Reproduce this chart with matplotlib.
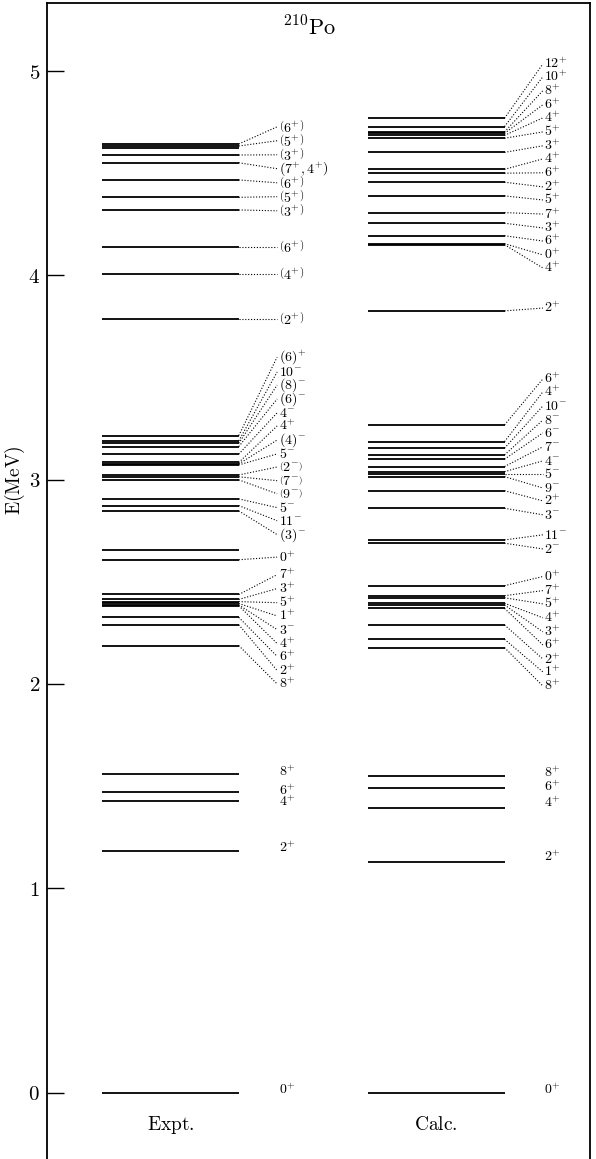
import matplotlib
matplotlib.use("Agg")
import matplotlib.pyplot as plt

plt.rcParams['mathtext.fontset'] = 'cm'
plt.rcParams['font.family'] = ['DejaVu Serif']

# ---------------- data ----------------
yticks = [0, 1, 2, 3, 4, 5]
column_names = ["Expt.", "Calc."]
title = r"$^{210}\mathrm{Po}$"

expt_E = [0.000, 1.181, 1.427, 1.473, 1.557,
          2.188, 2.290, 2.326, 2.383, 2.387, 2.394, 2.403, 2.414, 2.438, 2.608, 2.657,
          2.847, 2.873, 2.906, 2.999, 3.014, 3.023, 3.072, 3.077, 3.084, 3.125, 3.162,
          3.178, 3.190, 3.216,
          3.787, 4.007, 4.140, 4.320, 4.382, 4.467, 4.551, 4.589, 4.622, 4.633, 4.643]
expt_lab = [r"0^{+}", r"2^{+}", r"4^{+}", r"6^{+}", r"8^{+}",
            r"8^{+}", r"2^{+}", r"6^{+}", r"4^{+}", r"3^{-}", r"1^{+}", r"5^{+}", r"3^{+}",
            r"7^{+}", r"0^{+}", "",
            r"(3)^{-}", r"11^{-}", r"5^{-}", r"\left(9^{-}\right)", r"\left(7^{-}\right)",
            r"\left(2^{-}\right)", r"5^{-}", r"(4)^{-}", r"4^{+}", r"4^{-}", r"(6)^{-}",
            r"(8)^{-}", r"10^{-}", r"(6)^{+}",
            r"\left(2^{+}\right)", r"\left(4^{+}\right)", r"\left(6^{+}\right)",
            r"\left(3^{+}\right)", r"\left(5^{+}\right)", r"\left(6^{+}\right)",
            r"\left(7^{+},4^{+}\right)", r"\left(3^{+}\right)", "",
            r"\left(5^{+}\right)", r"\left(6^{+}\right)"]
expt_labE = [0.015, 1.201, 1.427, 1.476, 1.569,
             2.000, 2.066, 2.135, 2.198, 2.266, 2.333, 2.398, 2.467, 2.535, 2.621, None,
             2.731, 2.799, 2.863, 2.931, 2.995, 3.062, 3.126, 3.194, 3.263, 3.327, 3.395,
             3.463, 3.527, 3.600,
             3.787, 4.007, 4.140, 4.316, 4.385, 4.453, 4.522, 4.590, None, 4.659, 4.727]

calc_E = [0.000, 1.130, 1.395, 1.490, 1.551,
          2.178, 2.219, 2.289, 2.370, 2.387, 2.395, 2.422, 2.432, 2.481,
          2.689, 2.705, 2.860, 2.946, 3.015, 3.028, 3.039, 3.064, 3.100, 3.121, 3.154,
          3.186, 3.268,
          3.826, 4.150, 4.155, 4.194, 4.255, 4.307, 4.389, 4.456, 4.500, 4.519, 4.602,
          4.671, 4.685, 4.695, 4.702, 4.728, 4.769]
calc_lab = [r"0^{+}", r"2^{+}", r"4^{+}", r"6^{+}", r"8^{+}",
            r"8^{+}", r"1^{+}", r"2^{+}", r"6^{+}", r"3^{+}", r"4^{+}", r"5^{+}", r"7^{+}",
            r"0^{+}",
            r"2^{-}", r"11^{-}", r"3^{-}", r"2^{+}", r"9^{-}", r"5^{-}", r"4^{-}", r"7^{-}",
            r"6^{-}", r"8^{-}", r"10^{-}", r"4^{+}", r"6^{+}",
            r"2^{+}", r"4^{+}", r"0^{+}", r"6^{+}", r"3^{+}", r"7^{+}", r"5^{+}", r"2^{+}",
            r"6^{+}", r"4^{+}", r"3^{+}", r"5^{+}", r"4^{+}", r"6^{+}", r"8^{+}", r"10^{+}",
            r"12^{+}"]
calc_labE = [0.015, 1.153, 1.418, 1.496, 1.565,
             1.990, 2.059, 2.122, 2.191, 2.255, 2.324, 2.392, 2.457, 2.526,
             2.661, 2.730, 2.828, 2.896, 2.959, 3.028, 3.092, 3.161, 3.229, 3.292, 3.361,
             3.430, 3.493,
             3.840, 4.036, 4.100, 4.168, 4.232, 4.300, 4.369, 4.433, 4.502, 4.570, 4.634,
             4.702, 4.771, 4.835, 4.904, 4.972, 5.035]

# ---------------- layout ----------------
W, H = 596, 1159
fig = plt.figure(figsize=(W / 100, H / 100), dpi=100)
ax = fig.add_axes([47 / W, 0.0, (590 - 47) / W, (1159 - 3) / H])

col_left = [0.0, 1.94]
col_w = 1.0
conn_len = 0.28
ax.set_xlim(-0.40, 3.564)
ax.set_ylim(-0.325, 5.333)

columns = [(expt_E, expt_lab, expt_labE), (calc_E, calc_lab, calc_labE)]
for (E, labs, labE), x0 in zip(columns, col_left):
    x1 = x0 + col_w
    for e, lab, le in zip(E, labs, labE):
        ax.plot([x0, x1], [e, e], color='black', lw=1.3, solid_capstyle='butt')
        if not lab:
            continue
        if e > 2.0:
            ax.plot([x1, x1 + conn_len], [e, le], color='black', lw=0.8,
                    linestyle=(0, (1, 1.6)))
        ax.text(x1 + conn_len + 0.01, le, "$" + lab + "$", fontsize=10,
                ha='left', va='center')

for name, x0 in zip(column_names, col_left):
    ax.text(x0 + col_w / 2, -0.16, r"$\mathrm{" + name + "}$", fontsize=14,
            ha='center', va='center')

ax.text(1.52, 5.21, title, fontsize=16, ha='center', va='center')

ax.set_yticks(yticks)
ax.set_yticklabels([f"${t}$" for t in yticks], fontsize=15)
ax.tick_params(axis='y', direction='in', length=12, width=1.0, pad=5, right=False)
ax.set_xticks([])
ax.spines['bottom'].set_visible(False)
for s in ['left', 'right', 'top']:
    ax.spines[s].set_linewidth(1.3)
fig.text(15 / W, 1 - 480 / H, r"$\mathrm{E(MeV)}$", fontsize=14, rotation=90,
         ha='center', va='center')

fig.savefig("out.png", dpi=100)
